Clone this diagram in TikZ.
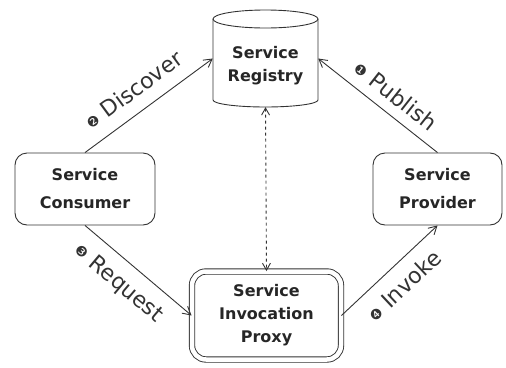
\documentclass[tikz,border=0pt]{standalone}
\usepackage{fontspec}
\setmainfont{DejaVu Sans}
\usetikzlibrary{arrows.meta}
\newcommand\numbul[1]{{\fontsize{14}{14}\selectfont\raisebox{1pt}{#1}}}
\begin{document}
\begin{tikzpicture}[x=1pt,y=1pt,
  edge/.style={draw=black!80, line width=0.9pt},
  box/.style={edge, rounded corners=12pt, align=center, inner sep=0pt,
    font=\fontsize{16}{28}\selectfont\bfseries, text=black!85},
  conn/.style={edge, -{Straight Barb[length=8pt,width=9pt]}},
  lbl/.style={font=\fontsize{22}{24}\selectfont, text=black!80, inner sep=2pt, sloped}]
\useasboundingbox (0,0) rectangle (506,-367);
% registry cylinder
\node[inner sep=0pt, minimum width=105pt, minimum height=97pt] (reg) at (265.5,-58.5) {};
\draw[edge] (213,-19) -- (213,-100) arc[start angle=180, end angle=360, x radius=52.5pt, y radius=7pt] -- (318,-19);
\draw[edge] (265.5,-19) ellipse[x radius=52.5pt, y radius=9pt];
\node[align=center, font=\fontsize{16}{23}\selectfont\bfseries, text=black!85] (regtxt) at (265.5,-66) {Service\\Registry};
% other nodes
\node[box, minimum width=140pt, minimum height=72pt] (con) at (85,-189) {Service\\Consumer};
\node[box, minimum width=129pt, minimum height=72pt] (prov) at (437.5,-189) {Service\\Provider};
\node[box, double, double distance=4.5pt, minimum width=149pt, minimum height=88pt,
  rounded corners=14pt, font=\fontsize{16}{23}\selectfont\bfseries] (prx) at (266.5,-315.5) {Service\\Invocation\\Proxy};
% connectors
\draw[conn] (con.north) -- node[lbl, pos=.48, above=11pt] {\numbul{❷} Discover} (reg.west);
\draw[conn] (prov.north) -- node[lbl, pos=.45, above=8pt] {\numbul{❶} Publish} (reg.east);
\draw[conn] (con.south) -- node[lbl, pos=.45, below=10pt] {\numbul{❸} Request} (prx.west);
\draw[conn] (prx.east) -- node[lbl, pos=.5, below=10pt] {\numbul{❹} Invoke} (prov.south);
\draw[edge, dashed, {Straight Barb[length=7pt,width=8pt]}-{Straight Barb[length=7pt,width=8pt]}] (reg.south) -- (prx.north);
\end{tikzpicture}
\end{document}
